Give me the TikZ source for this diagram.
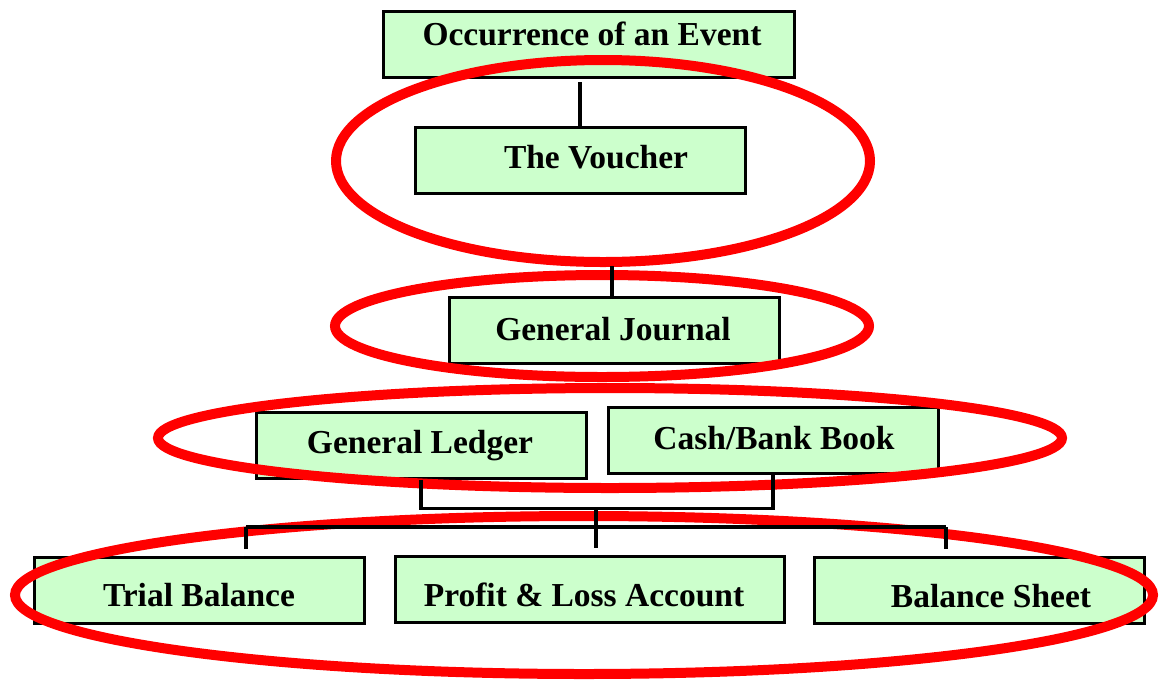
\documentclass[tikz,border=0pt]{standalone}
\usepackage{fontspec}
\setmainfont{Liberation Serif}
\definecolor{boxgreen}{HTML}{CCFFCC}
\definecolor{ringred}{HTML}{FF0000}
\begin{document}
\begin{tikzpicture}[x=1pt,y=-1pt,
  box/.style={draw=black, line width=3pt, fill=boxgreen, minimum height=66pt, inner sep=0pt, anchor=center},
  lbl/.style={font=\fontsize{33.5}{40}\selectfont\bfseries, anchor=base, inner sep=0pt},
  ring/.style={draw=ringred, line width=10pt},
  conn/.style={draw=black, line width=3.5pt}]
\useasboundingbox[fill=white] (0,0) rectangle (1159,681);
% boxes
\node[box, minimum width=411pt] (occ) at (588.5,44) {};
\node[box, minimum width=330pt] (vou) at (580,160) {};
\node[box, minimum width=330pt] (jou) at (614,330) {};
\node[box, minimum width=330pt] (led) at (421,445) {};
\node[box, minimum width=330pt] (cash) at (773,440) {};
\node[box, minimum width=330pt] (tri) at (199,590) {};
\node[box, minimum width=389pt] (pl) at (589.5,589) {};
\node[box, minimum width=330pt] (bs) at (979,590) {};
% labels
\node[lbl] (occT) at (592,45) {Occurrence of an Event};
\node[lbl] (vouT) at (596,168) {The Voucher};
\node[lbl] (jouT) at (613,340) {General Journal};
\node[lbl] (ledT) at (420,453) {General Ledger};
\node[lbl] (cashT) at (774,449) {Cash/Bank Book};
\node[lbl] (triT) at (199,606) {Trial Balance};
\node[lbl] (plT) at (584,606) {Profit \& Loss Account};
\node[lbl] (bsT) at (991,607) {Balance Sheet};
% red rings
\draw[ring] (603,161) ellipse [x radius=267, y radius=101];
\draw[ring] (602,326) ellipse [x radius=267, y radius=51];
\draw[ring] (610,438) ellipse [x radius=452, y radius=50];
\draw[ring] (584,595) ellipse [x radius=569, y radius=79];
% connectors
\coordinate (ov) at (580,82);
\draw[conn] (ov) -- (vou.north);
\coordinate (vj) at (612,266);
\draw[conn] (vj) -- (vj |- jou.north);
\draw[conn] (led.south) -- ++(0,29) -| (cash.south);
\coordinate (br) at (596,507);
\coordinate (hl) at (246,527);
\coordinate (hr) at (946,527);
\draw[conn] (hl) -- (hr);
\draw[conn, shorten >=7pt] (br) -- (br |- pl.north);
\draw[conn, shorten >=7pt] (hl) -- (hl |- tri.north);
\draw[conn, shorten >=7pt] (hr) -- (hr |- bs.north);
\end{tikzpicture}
\end{document}
